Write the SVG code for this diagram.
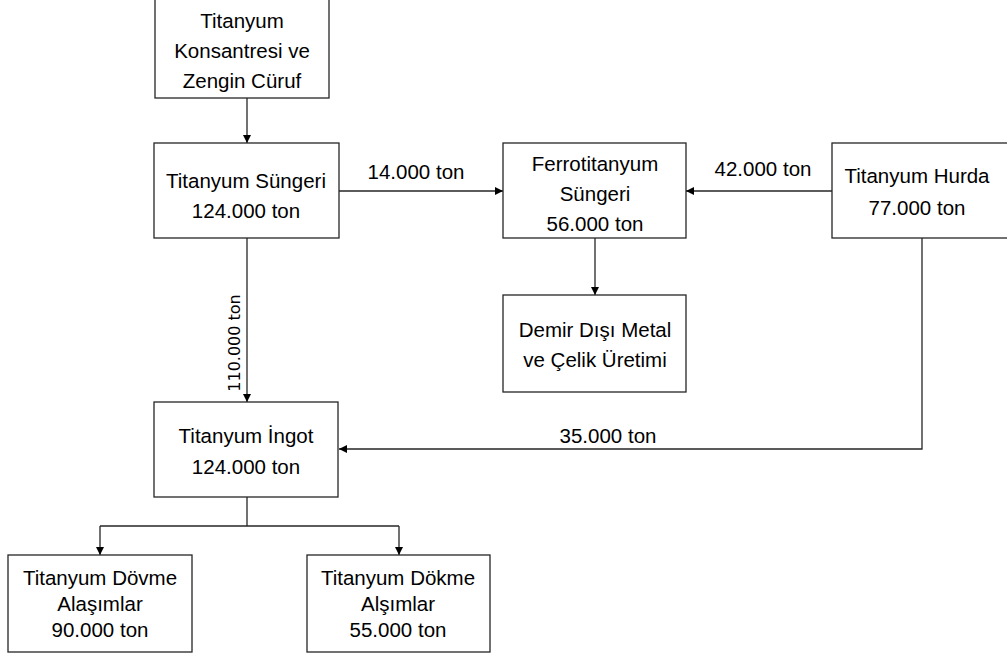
<svg xmlns="http://www.w3.org/2000/svg" width="1007" height="655" viewBox="0 0 1007 655">
<style>
.box{fill:#fff;stroke:#262626;stroke-width:1.3}
.ln{fill:none;stroke:#262626;stroke-width:1.3}
text{font-family:"Liberation Sans",Arial,sans-serif;font-size:20.5px;fill:#000;text-anchor:middle}
.vl{font-family:"DejaVu Sans",Verdana,sans-serif;font-size:16px}
</style>
<defs>
<marker id="ah" viewBox="0 0 10 10" refX="10" refY="5" markerWidth="8" markerHeight="8" markerUnits="userSpaceOnUse" orient="auto">
<path d="M0,0 L10,5 L0,10 Z" fill="#000"/>
</marker>
</defs>
<rect width="1007" height="655" fill="#fff"/>
<g id="connectors">
<path class="ln" d="M247,98 V143" marker-end="url(#ah)"/>
<path class="ln" d="M339,191 H503" marker-end="url(#ah)"/>
<path class="ln" d="M832,191 H686" marker-end="url(#ah)"/>
<path class="ln" d="M595,238 V295" marker-end="url(#ah)"/>
<path class="ln" d="M247,238 V402" marker-end="url(#ah)"/>
<path class="ln" d="M922,238 V449 H339" marker-end="url(#ah)"/>
<path class="ln" d="M247,497 V526"/>
<path class="ln" d="M100,526 H399"/>
<path class="ln" d="M100,526 V555" marker-end="url(#ah)"/>
<path class="ln" d="M399,526 V555" marker-end="url(#ah)"/>
<text x="416" y="179">14.000 ton</text>
<text x="763" y="176">42.000 ton</text>
<text x="608" y="443">35.000 ton</text>
<text class="vl" transform="translate(240,343) rotate(-90)">110.000 ton</text>
</g>
<g id="n-konsantre">
<rect class="box" x="155" y="-1" width="174" height="99"/>
<text x="242" y="28">Titanyum</text>
<text x="242" y="58">Konsantresi ve</text>
<text x="242" y="88">Zengin Cüruf</text>
</g>
<g id="n-sunger">
<rect class="box" x="154" y="143" width="185" height="95"/>
<text x="246" y="188">Titanyum Süngeri</text>
<text x="246" y="218">124.000 ton</text>
</g>
<g id="n-ferro">
<rect class="box" x="503" y="143" width="183" height="95"/>
<text x="595" y="171">Ferrotitanyum</text>
<text x="595" y="201">Süngeri</text>
<text x="595" y="231">56.000 ton</text>
</g>
<g id="n-hurda">
<rect class="box" x="832" y="143" width="180" height="95"/>
<text x="917" y="183">Titanyum Hurda</text>
<text x="917" y="215">77.000 ton</text>
</g>
<g id="n-demir">
<rect class="box" x="503" y="295" width="183" height="97"/>
<text x="595" y="337">Demir Dışı Metal</text>
<text x="595" y="367">ve Çelik Üretimi</text>
</g>
<g id="n-ingot">
<rect class="box" x="154" y="402" width="184" height="95"/>
<text x="246" y="443">Titanyum İngot</text>
<text x="246" y="474">124.000 ton</text>
</g>
<g id="n-dovme">
<rect class="box" x="8" y="555" width="184" height="97"/>
<text x="100" y="585">Titanyum Dövme</text>
<text x="100" y="611">Alaşımlar</text>
<text x="100" y="637">90.000 ton</text>
</g>
<g id="n-dokme">
<rect class="box" x="307" y="555" width="183" height="97"/>
<text x="398" y="585">Titanyum Dökme</text>
<text x="398" y="611">Alşımlar</text>
<text x="398" y="637">55.000 ton</text>
</g>
</svg>
